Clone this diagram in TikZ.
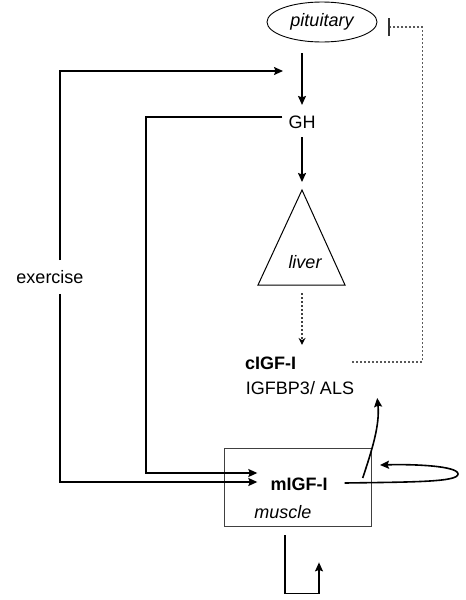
\documentclass[tikz,border=0pt]{standalone}
\usepackage{fontspec}
\setmainfont{Liberation Sans}
\usetikzlibrary{positioning, arrows.meta, calc, shapes}

\begin{document}
\begin{tikzpicture}[
	x=1pt, y=-1pt,
	every node/.style={font=\fontsize{18}{21}\selectfont, inner sep=2pt},
	organ/.style={ellipse, draw, line width=0.9pt, minimum width=110pt, minimum height=40pt, font=\fontsize{18}{21}\selectfont\itshape},
	arr/.style={line width=1.6pt, -{Stealth[length=9pt, width=8pt, inset=1.5pt]}},
	arrthin/.style={line width=1.1pt, -{Stealth[length=9pt, width=8pt, inset=1.5pt]}},
	dotarr/.style={line width=1.2pt, black!75, dash pattern=on 2pt off 2pt, -{Stealth[length=7pt, width=7pt, black]}},
	fb/.style={line width=1.2pt, black!65, dash pattern=on 2pt off 2pt, -{Bar[width=18pt, black!80]}},
	]
	
	\useasboundingbox (0,0) rectangle (466,600);
	
	\node[organ] (pit) at (322,22) {pituitary};
	\node (gh) at (302,122) {GH};
	\coordinate (apex) at (302,190);
	\coordinate (bl) at (258,285);
	\coordinate (br) at (345,285);
	\draw[line width=1pt] (apex) -- (br) -- (bl) -- cycle;
	\node[font=\fontsize{18}{21}\selectfont\itshape] (liver) at (305,262) {liver};
	\node[anchor=west, font=\fontsize{18}{21}\selectfont\bfseries] (cigf) at (243,363) {cIGF-I};
	\node (bp) at (300,388) {IGFBP3/ ALS};
	\node[draw, line width=0.8pt, black!75, minimum width=147pt, minimum height=78pt] (box) at (297.5,487) {};
	\node[font=\fontsize{18}{21}\selectfont\bfseries] (mig) at (299,484) {mIGF-I};
	\node[font=\fontsize{18}{21}\selectfont\itshape] (musc) at (283,512) {muscle};
	\node[inner ysep=10pt] (ex) at (50,277) {exercise};
	\coordinate (exin) at (283,71);
	\coordinate (loop) at (458,474);
	\coordinate (loopend) at (380,465);
	
	% pituitary axis
	\draw[arr, shorten <=11pt, shorten >=8.5pt] (gh |- pit.south) -- (gh.north);
	\draw[arr, shorten <=6.5pt, shorten >=8pt] (gh.south) -- (apex);
	\draw[dotarr, shorten <=8pt, shorten >=9.5pt] (apex |- bl) -- (apex |- cigf.north);
	\draw[fb] ($(cigf.east)+(54,-1)$) -- ++(70,0) |- ($(pit.east)+(11,5)$);
	
	% exercise and GH to muscle
	\draw[arr, line width=1.4pt] ([xshift=10pt]ex.north) |- (exin);
	\draw[arr, line width=1.4pt] ([xshift=10pt]ex.south) |- ($(mig.west)+(-11,-2)$);
	\draw[arrthin] ($(gh.west)+(-4,-5)$) -| (146,300) |- ($(mig.west)+(-11,-11)$);
	
	% local loops
	\draw[arr] ($(mig.east)+(15,-1)$) .. controls (415,482) and (458,482) .. (loop)
		.. controls (458,466) and (415,464) .. (loopend);
	\draw[arr] ($(mig.east)+(33,-6)$) .. controls (372,450) and (380,425) .. ($(bp.east)+(21,10)$);
	\draw[arrthin] ([xshift=-12.5pt, yshift=-9pt]box.south) -- ++(0,58) -- ++(34,0) -- ++(0,-31);
	
\end{tikzpicture}
\end{document}
